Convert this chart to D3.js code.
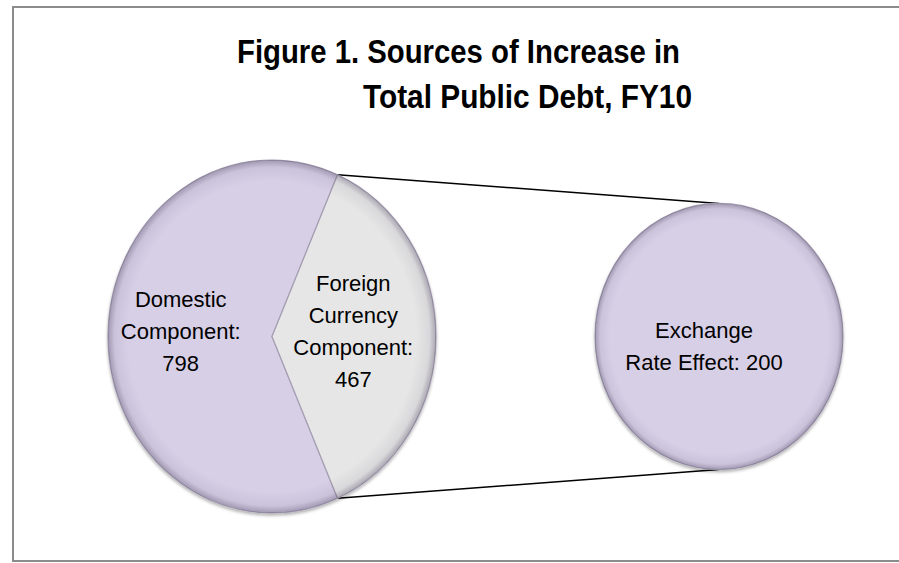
<!DOCTYPE html>
<html>
<head>
<meta charset="utf-8">
<script src="https://cdn.jsdelivr.net/npm/d3@7"></script>
<style>
  body { margin: 0; background: #fff; }
  svg { display: block; }
  text { font-family: "Liberation Sans", Arial, sans-serif; fill: #000; }
</style>
</head>
<body>
<div id="chart"></div>
<script>
// data
const titleLines = ["Figure 1. Sources of Increase in", "Total Public Debt, FY10"];
const mainCategories = ["Domestic Component", "Foreign Currency Component"];
const mainValues = [798, 467];
const secondCategories = ["Exchange Rate Effect"];
const secondValues = [200];

const WIDTH = 899, HEIGHT = 563;
const mainColor = d3.scaleOrdinal().domain(mainCategories).range(["#d7cfe6", "#e6e6e6"]);
const secondColor = d3.scaleOrdinal().domain(secondCategories).range(["#d7cfe6"]);

const svg = d3.select("#chart").append("svg")
  .attr("width", WIDTH)
  .attr("height", HEIGHT);

const defs = svg.append("defs");

// rim shading, roughly like the excel bevel
const rim = defs.append("radialGradient").attr("id", "rim");
rim.append("stop").attr("offset", "0%").attr("stop-color", "#3c3250").attr("stop-opacity", 0);
rim.append("stop").attr("offset", "88%").attr("stop-color", "#3c3250").attr("stop-opacity", 0);
rim.append("stop").attr("offset", "96%").attr("stop-color", "#3c3250").attr("stop-opacity", 0.08);
rim.append("stop").attr("offset", "100%").attr("stop-color", "#3c3250").attr("stop-opacity", 0.35);

const shadow = defs.append("filter").attr("id", "shadow")
  .attr("x", "-10%").attr("y", "-10%").attr("width", "120%").attr("height", "120%");
shadow.append("feDropShadow")
  .attr("dx", 0).attr("dy", 2).attr("stdDeviation", 1.5)
  .attr("flood-color", "#000").attr("flood-opacity", 0.3);

// frame
svg.append("rect")
  .attr("x", 13).attr("y", 7)
  .attr("width", WIDTH + 20).attr("height", 554)
  .attr("fill", "none")
  .attr("stroke", "#8c8c8c")
  .attr("stroke-width", 2);

// title
const titleX = [237, 363], titleW = [443, 329], titleY = [63, 108];
svg.append("g").selectAll("text")
  .data(titleLines)
  .join("text")
  .attr("x", (d, i) => titleX[i])
  .attr("y", (d, i) => titleY[i])
  .attr("textLength", (d, i) => titleW[i])
  .attr("lengthAdjust", "spacingAndGlyphs")
  .attr("font-size", 33)
  .attr("font-weight", "bold")
  .text(d => d);

// geometry of the two pies (they are squashed a bit horizontally)
const main = {cx: 272, cy: 336.5, r: 164, k: 1.076};
const second = {cx: 719, cy: 336.5, r: 124, k: 1.073};

// split-off slice is centred on the right hand side
const total = d3.sum(mainValues);
const frac = mainValues[1] / total;
const start = Math.PI / 2 + frac * Math.PI;

const mainArcs = d3.pie().sort(null)
  .startAngle(start).endAngle(start + 2 * Math.PI)(mainValues);
const secondArcs = d3.pie().sort(null)(secondValues);

const arcMain = d3.arc().innerRadius(0).outerRadius(main.r);
const arcSecond = d3.arc().innerRadius(0).outerRadius(second.r);

// connector lines from the slice edges to the second pie
const foreign = mainArcs[1];
const edgePoint = (a) => [
  main.cx + Math.sin(a) * main.r,
  main.cy - Math.cos(a) * main.r * main.k
];
const connectors = [
  [edgePoint(foreign.startAngle), [second.cx, second.cy - second.r * second.k]],
  [edgePoint(foreign.endAngle), [second.cx, second.cy + second.r * second.k]]
];
svg.append("g").selectAll("line")
  .data(connectors)
  .join("line")
  .attr("x1", d => d[0][0]).attr("y1", d => d[0][1])
  .attr("x2", d => d[1][0]).attr("y2", d => d[1][1])
  .attr("stroke", "#000")
  .attr("stroke-width", 1.6);

function drawPie(geo, arcs, arcGen, names, color) {
  const g = svg.append("g")
    .attr("transform", `translate(${geo.cx},${geo.cy}) scale(1,${geo.k})`)
    .attr("filter", "url(#shadow)");

  g.selectAll("path.slice")
    .data(arcs)
    .join("path")
    .attr("class", "slice")
    .attr("d", arcGen)
    .attr("fill", (d, i) => color(names[i]))
    .attr("stroke", "#a59db2")
    .attr("stroke-width", 1.2)
    .attr("vector-effect", "non-scaling-stroke");

  g.append("circle")
    .attr("r", geo.r)
    .attr("fill", "url(#rim)")
    .attr("pointer-events", "none");
}

drawPie(main, mainArcs, arcMain, mainCategories, mainColor);
drawPie(second, secondArcs, arcSecond, secondCategories, secondColor);

// labels
const LINE = 32;
function drawLabel(x, y, lines) {
  const t = svg.append("text")
    .attr("text-anchor", "middle")
    .attr("font-size", 22);
  const first = y - (lines.length - 1) * LINE / 2 + 8;
  lines.forEach((l, i) => {
    t.append("tspan").attr("x", x).attr("y", first + i * LINE).text(l);
  });
}

const labelArc = d3.arc().innerRadius(main.r * 0.52).outerRadius(main.r * 0.52);
mainArcs.forEach((d, i) => {
  const [x, y] = labelArc.centroid(d);
  const words = mainCategories[i].split(" ");
  words[words.length - 1] += ":";
  drawLabel(main.cx + x + (i === 0 ? -6 : -4), main.cy + y * main.k - 6, [...words, String(mainValues[i])]);
});

secondArcs.forEach((d, i) => {
  const words = secondCategories[i].split(" ");
  const lines = [words[0], words.slice(1).join(" ") + ": " + secondValues[i]];
  drawLabel(second.cx - 15, second.cy + 9, lines);
});
</script>
</body>
</html>
